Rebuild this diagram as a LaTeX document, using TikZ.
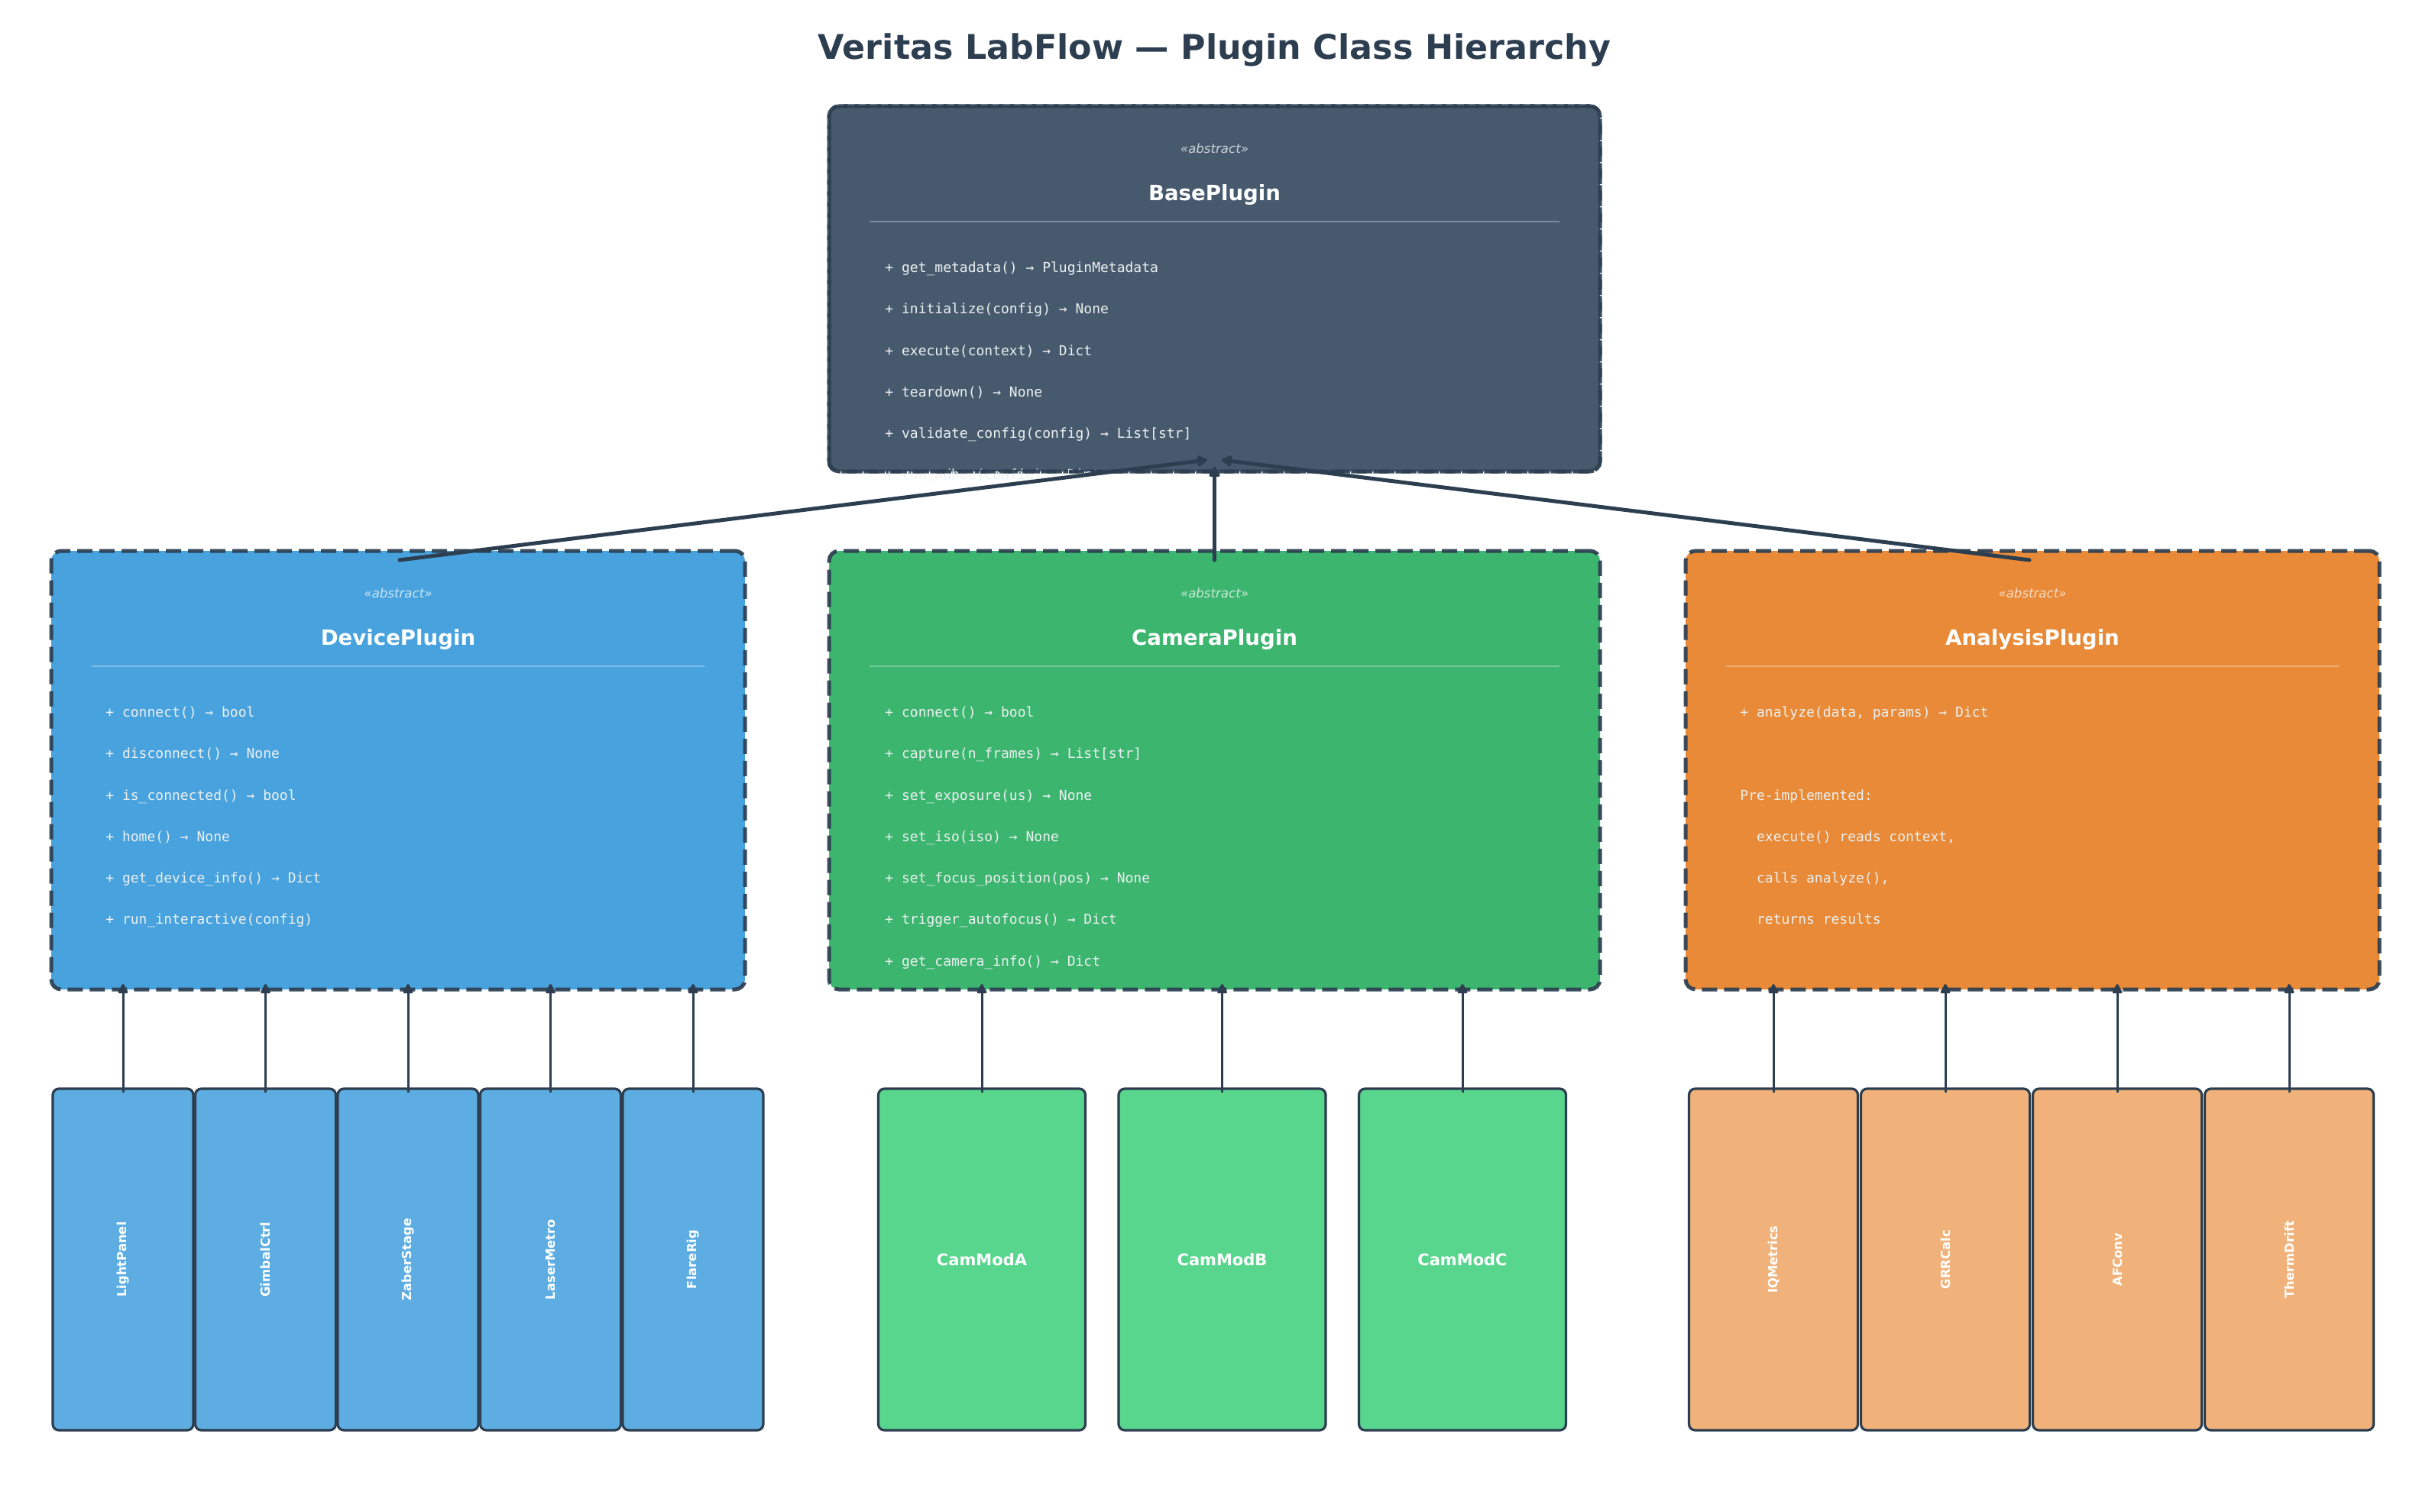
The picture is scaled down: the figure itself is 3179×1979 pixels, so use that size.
\documentclass[tikz,border=0pt]{standalone}
\usepackage{fontspec}
\setmainfont{DejaVu Sans}
\newfontfamily\monofont{DejaVu Sans Mono}
\usetikzlibrary{arrows.meta,calc}
\definecolor{ink}{HTML}{2C3E50}
\definecolor{basec}{HTML}{34495E}
\definecolor{devc}{HTML}{3498DB}
\definecolor{camc}{HTML}{27AE60}
\definecolor{anac}{HTML}{E67E22}
\definecolor{devl}{HTML}{5DADE2}
\definecolor{caml}{HTML}{58D68D}
\definecolor{anal}{HTML}{F0B27A}
\definecolor{methc}{HTML}{ECF0F1}
\begin{document}
\begin{tikzpicture}[x=0.5pt,y=-0.5pt,
  clsbox/.style={rectangle, rounded corners=6.5pt, draw=ink, draw opacity=0.92,
    line width=2.5pt, dash pattern=on 10pt off 4.5pt, fill opacity=0.9,
    inner sep=0pt, outer sep=0pt},
  clsborder/.style={rounded corners=6.5pt, draw=ink, draw opacity=0.92,
    line width=2.5pt, dash pattern=on 10pt off 4.5pt},
  leafbox/.style={rectangle, rounded corners=4pt, draw=ink, line width=1.6pt,
    inner sep=0pt, outer sep=0pt, minimum height=223.5pt},
  stereo/.style={text=white, text opacity=0.72, font=\fontsize{8.3}{10}\selectfont\itshape, anchor=mid},
  clsname/.style={text=white, font=\fontsize{13.8}{16}\selectfont\bfseries, anchor=mid},
  meth/.style={text=methc, font=\fontsize{9}{11}\selectfont\monofont, anchor=mid west, inner sep=0pt},
  sepline/.style={draw=white, draw opacity=0.3, line width=1pt},
  bigarrow/.style={draw=ink, line width=2.5pt, line cap=round, -{Stealth[length=7.5pt,width=8pt,inset=0pt,round]}},
  smallarrow/.style={draw=ink, line width=1.5pt, -{Stealth[length=7pt,width=7pt,inset=0pt,round]}},
  vlab/.style={text=white, font=\fontsize{8.2}{10}\selectfont\bfseries, rotate=90, anchor=center},
  hlab/.style={text=white, font=\fontsize{10.5}{12}\selectfont\bfseries, anchor=center}
]
\fill[white] (0,0) rectangle (3179,1979);
\useasboundingbox (0,0) rectangle (3179,1979);

% title
\node[text=ink, font=\fontsize{22.2}{26}\selectfont\bfseries, anchor=mid] (title) at (1589.5,72)
  {Veritas LabFlow — Plugin Class Hierarchy};

% class boxes
\node[clsbox, fill=basec, minimum width=504.5pt, minimum height=239pt] (base) at (1589.5,378) {};
\node[clsbox, fill=devc, minimum width=454pt, minimum height=287pt] (dev) at (521,1008) {};
\node[clsbox, fill=camc, minimum width=504.5pt, minimum height=287pt] (cam) at (1589.5,1008) {};
\node[clsbox, fill=anac, minimum width=454pt, minimum height=287pt] (ana) at (2660,1008) {};

% headers
\foreach \c/\n in {base/BasePlugin, dev/DevicePlugin, cam/CameraPlugin, ana/AnalysisPlugin}{
  \node[stereo] (\c-st) at ($(\c.north)+(0,56)$) {«abstract»};
  \node[clsname] (\c-nm) at ($(\c.north)+(0,118)$) {\n};
  \draw[sepline] ($(\c.north west)+(53,151)$) -- ($(\c.north east)+(-53,151)$);
}

% methods
\foreach \t [count=\i] in {{+ get\_metadata() → PluginMetadata},{+ initialize(config) → None},
  {+ execute(context) → Dict},{+ teardown() → None},{+ validate\_config(config) → List[str]},
  {+ run\_adhoc(config) → Dict}}{
  \node[meth] (base-m\i) at ($(base.north west)+(73,{212+54.3*(\i-1)})$) {\t};
}
\draw[clsborder] (base.south west) rectangle (base.north east);

\foreach \t [count=\i] in {{+ connect() → bool},{+ disconnect() → None},{+ is\_connected() → bool},
  {+ home() → None},{+ get\_device\_info() → Dict},{+ run\_interactive(config)}}{
  \node[meth] (dev-m\i) at ($(dev.north west)+(71,{212+54.3*(\i-1)})$) {\t};
}
\foreach \t [count=\i] in {{+ connect() → bool},{+ capture(n\_frames) → List[str]},{+ set\_exposure(us) → None},
  {+ set\_iso(iso) → None},{+ set\_focus\_position(pos) → None},{+ trigger\_autofocus() → Dict},
  {+ get\_camera\_info() → Dict}}{
  \node[meth] (cam-m\i) at ($(cam.north west)+(73,{212+54.3*(\i-1)})$) {\t};
}
\foreach \t/\k in {{+ analyze(data, params) → Dict}/0,{Pre-implemented:}/2,
  {\phantom{++}execute() reads context,}/3,{\phantom{++}calls analyze(),}/4,{\phantom{++}returns results}/5}{
  \node[meth] (ana-m\k) at ($(ana.north west)+(71,{212+54.3*\k})$) {\t};
}

% inheritance arrows to base
\draw[bigarrow] ($(dev.north)+(2,12)$) -- ($(base.south)+(-9.5,-15)$);
\draw[bigarrow] ($(cam.north)+(0,12)$) -- ($(base.south)+(0,-6)$);
\draw[bigarrow] ($(ana.north)+(-4,12)$) -- ($(base.south)+(9.5,-15)$);

% leaves: device
\foreach \n [count=\i] in {LightPanel,GimbalCtrl,ZaberStage,LaserMetro,FlareRig}{
  \node[leafbox, fill=devl, minimum width=92pt] (dl\i) at ({161+186.5*(\i-1)},1648.5) {};
  \node[vlab] (dl\i-t) at (dl\i.center) {\n};
  \draw[smallarrow] ($(dl\i.north)+(0,5)$) -- ($(dl\i.north |- dev.south)+(0,-7)$);
}
% leaves: camera
\foreach \n/\x [count=\i] in {CamModA/1285,CamModB/1599.5,CamModC/1914}{
  \node[leafbox, fill=caml, minimum width=135.5pt] (cl\i) at (\x,1648.5) {};
  \node[hlab] (cl\i-t) at (cl\i.center) {\n};
  \draw[smallarrow] ($(cl\i.north)+(0,5)$) -- ($(cl\i.north |- cam.south)+(0,-7)$);
}
% leaves: analysis
\foreach \n [count=\i] in {IQMetrics,GRRCalc,AFConv,ThermDrift}{
  \node[leafbox, fill=anal, minimum width=110.5pt] (al\i) at ({2321+225*(\i-1)},1648.5) {};
  \node[vlab] (al\i-t) at (al\i.center) {\n};
  \draw[smallarrow] ($(al\i.north)+(0,5)$) -- ($(al\i.north |- ana.south)+(0,-7)$);
}
\end{tikzpicture}
\end{document}
